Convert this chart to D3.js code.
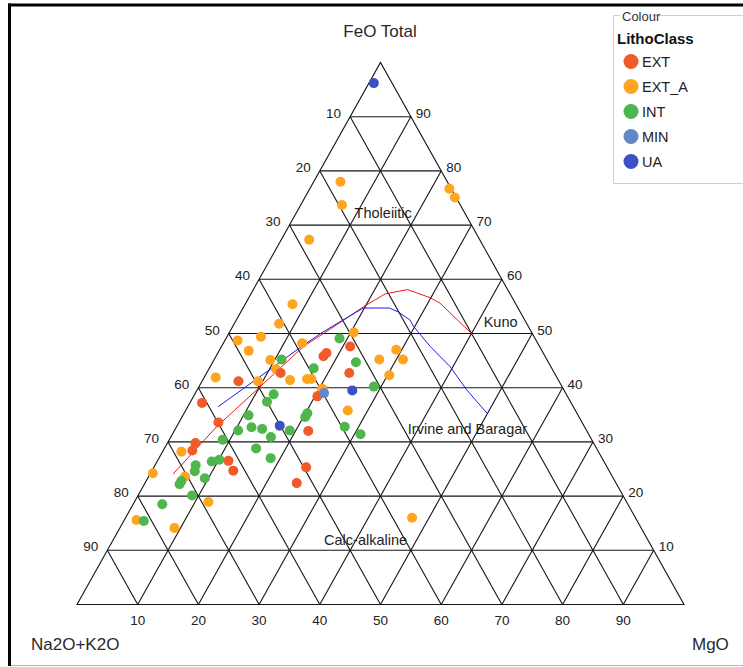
<!DOCTYPE html>
<html>
<head>
<meta charset="utf-8">
<script src="https://cdn.jsdelivr.net/npm/d3@7"></script>
<style>
  body { margin: 0; background: #fff; }
  svg { display: block; }
  text { font-family: "Liberation Sans", Arial, sans-serif; }
</style>
</head>
<body>
<svg id="chart" width="743" height="667"></svg>
<script>
// AFM ternary diagram: Na2O+K2O (A) – FeO Total (F) – MgO (M), values in %
const classes = ["EXT", "EXT_A", "INT", "MIN", "UA"];
const classColors = ["#f15b2c", "#ffa41f", "#4fb54d", "#6586c6", "#3a51c6"];

// samples as [A, F, M]
const extSamples = [
  [31.2, 47.6, 21.2], [35.7, 46.4, 17.9], [36.5, 45.8, 17.7], [45.1, 42.7, 12.2],
  [33.8, 42.7, 23.5], [52.8, 41.2, 6.0], [41.2, 38.4, 20.4], [60.8, 37.2, 2.0],
  [59.9, 33.6, 6.5], [45.9, 32.0, 22.1], [65.6, 29.8, 4.6], [66.8, 28.4, 4.8],
  [61.8, 26.5, 11.7], [61.9, 24.7, 13.4], [49.6, 25.3, 25.1], [52.6, 22.4, 25.0]
];
const extASamples = [
  [17.6, 78.0, 4.4], [19.5, 73.7, 6.8], [0.3, 76.7, 23.0], [0.2, 75.1, 24.7],
  [28.1, 67.3, 4.6], [36.8, 55.4, 7.8], [40.8, 51.8, 7.4], [29.3, 50.2, 20.5],
  [49.2, 48.7, 2.1], [45.0, 49.4, 5.6], [48.3, 46.8, 4.9], [38.8, 48.2, 13.0],
  [23.9, 47.0, 29.1], [23.7, 45.2, 31.1], [27.6, 45.2, 27.2], [27.4, 42.3, 30.3],
  [45.6, 45.1, 9.3], [45.5, 43.4, 11.1], [44.2, 41.4, 14.4], [41.3, 41.6, 17.1],
  [40.6, 41.6, 17.8], [56.2, 41.9, 1.9], [49.6, 41.2, 9.2], [39.7, 39.8, 20.5],
  [37.5, 35.8, 26.7], [68.7, 28.2, 3.1], [75.4, 24.2, 0.4], [70.4, 23.6, 6.0],
  [68.9, 18.9, 12.2], [82.4, 15.6, 2.0], [76.9, 14.1, 9.0], [36.8, 16.0, 47.2]
];
const intSamples = [
  [32.2, 49.1, 18.7], [43.7, 45.2, 11.1], [31.7, 44.7, 23.6], [39.2, 43.6, 17.2],
  [31.0, 40.2, 28.8], [48.2, 38.8, 13.0], [50.0, 37.4, 12.6], [54.3, 34.9, 10.8],
  [44.4, 35.3, 20.3], [45.1, 34.6, 20.3], [54.9, 32.7, 12.4], [53.3, 32.4, 14.3],
  [57.4, 32.1, 10.5], [48.9, 32.1, 19.0], [39.5, 32.8, 27.7], [37.6, 31.4, 31.0],
  [52.6, 30.9, 16.5], [60.8, 30.4, 8.8], [56.1, 28.8, 15.1], [54.6, 27.0, 18.4],
  [64.6, 26.4, 9.0], [63.2, 26.7, 10.1], [67.6, 25.7, 6.7], [68.3, 24.6, 7.1],
  [67.3, 23.3, 9.4], [71.4, 22.8, 5.8], [72.0, 22.2, 5.8], [71.0, 20.1, 8.9],
  [76.7, 18.5, 4.8], [81.3, 15.4, 3.3]
];
const minSamples = [
  [39.8, 39.0, 21.2]
];
const uaSamples = [
  [3.0, 96.2, 0.8], [34.9, 39.5, 25.6], [50.1, 33.0, 16.9]
];

// tholeiitic / calc-alkaline dividing lines, as [A, F, M]
const kunoLine = [
  [72.1, 24.1, 3.8], [65.9, 28.8, 5.3], [60.6, 32.8, 6.6], [50.0, 40.0, 10.0],
  [38.9, 47.6, 13.5], [34.4, 50.0, 15.6], [30.3, 52.2, 17.5], [25.4, 54.9, 19.7],
  [20.6, 57.3, 22.1], [16.5, 58.1, 25.4], [13.5, 56.6, 29.9], [12.4, 55.6, 32.0],
  [10.0, 50.0, 40.0]
];
const irvineBaragarLine = [
  [58.5, 36.5, 5.0], [48.9, 42.0, 9.1], [39.2, 47.6, 13.2], [34.3, 50.3, 15.4],
  [25.5, 54.7, 19.8], [21.2, 54.7, 24.1], [20.1, 54.0, 25.9], [18.9, 52.5, 28.6],
  [18.9, 51.3, 29.8], [18.0, 47.6, 34.4], [16.6, 43.9, 39.5], [16.0, 39.6, 44.4],
  [14.8, 35.3, 49.9]
];

const gridTicks = [10, 20, 30, 40, 50, 60, 70, 80, 90];

const series = [extASamples, extSamples, intSamples, minSamples, uaSamples];
const seriesClass = ["EXT_A", "EXT", "INT", "MIN", "UA"];

// ---------------------------------------------------------------------------
const svg = d3.select("#chart");
const color = d3.scaleOrdinal().domain(classes).range(classColors);

// horizontal position comes from M + F/2, vertical from F
const xs = d3.scaleLinear().domain([0, 100]).range([77, 684]);
const ys = d3.scaleLinear().domain([0, 100]).range([604.5, 62.5]);
const proj = ([a, f, m]) => {
  const s = a + f + m;
  const F = 100 * f / s, M = 100 * m / s;
  return [xs(M + F / 2), ys(F)];
};

svg.append("rect").attr("width", 743).attr("height", 667).attr("fill", "#fff");

// panel frame
const frame = svg.append("g");
frame.append("line").attr("x1", 8).attr("x2", 743).attr("y1", 5).attr("y2", 5)
  .attr("stroke", "#000").attr("stroke-width", 3);
frame.append("line").attr("x1", 9.5).attr("x2", 9.5).attr("y1", 3.5).attr("y2", 666)
  .attr("stroke", "#000").attr("stroke-width", 3);
frame.append("line").attr("x1", 11).attr("x2", 743).attr("y1", 665.5).attr("y2", 665.5)
  .attr("stroke", "#b4b4b4").attr("stroke-width", 1);

// triangular grid
const grid = svg.append("g").attr("stroke", "#151515").attr("stroke-width", 1.1).attr("fill", "none");
const lineGen = d3.line().x(d => d[0]).y(d => d[1]);
grid.append("path").attr("d", lineGen([proj([100, 0, 0]), proj([0, 100, 0]), proj([0, 0, 100])]) + "Z");
gridTicks.forEach(v => {
  // constant FeO
  grid.append("path").attr("d", lineGen([proj([100 - v, v, 0]), proj([0, v, 100 - v])]));
  // constant MgO
  grid.append("path").attr("d", lineGen([proj([100 - v, 0, v]), proj([0, 100 - v, v])]));
  // constant alkalis
  grid.append("path").attr("d", lineGen([proj([v, 0, 100 - v]), proj([v, 100 - v, 0])]));
});

// tick labels
const tickG = svg.append("g").attr("font-size", 13.5).attr("fill", "#222");
gridTicks.forEach(v => {
  const pl = proj([v, 100 - v, 0]);
  tickG.append("text").attr("x", pl[0] - 9).attr("y", pl[1] + 1)
    .attr("text-anchor", "end").text(v);
  const pr = proj([0, v, 100 - v]);
  tickG.append("text").attr("x", pr[0] + 5).attr("y", pr[1] + 1)
    .attr("text-anchor", "start").text(v);
  const pb = proj([100 - v, 0, v]);
  tickG.append("text").attr("x", pb[0]).attr("y", pb[1] + 20)
    .attr("text-anchor", "middle").text(v);
});

// apex titles
const titleG = svg.append("g").attr("font-size", 17).attr("fill", "#2a2a2a");
titleG.append("text").attr("x", 380).attr("y", 37).attr("text-anchor", "middle").text("FeO Total");
titleG.append("text").attr("x", 31).attr("y", 650).text("Na2O+K2O");
titleG.append("text").attr("x", 692).attr("y", 650).text("MgO");

// dividing lines
const curve = d3.line().x(d => proj(d)[0]).y(d => proj(d)[1]);
svg.append("path").attr("d", curve(kunoLine)).attr("fill", "none")
  .attr("stroke", "#f01818").attr("stroke-width", 1);
svg.append("path").attr("d", curve(irvineBaragarLine)).attr("fill", "none")
  .attr("stroke", "#1a1aee").attr("stroke-width", 1);

// field labels
const fieldG = svg.append("g").attr("font-size", 14.5).attr("fill", "#1e1e1e");
[
  { t: "Tholeiitic", p: [13.9, 71.3, 14.8], a: "middle" },
  { t: "Kuno", p: [7.4, 51.2, 41.4], a: "start" },
  { t: "Irvine and Baragar", p: [29.8, 31.4, 38.8], a: "start" },
  { t: "Calc-alkaline", p: [53.8, 11.0, 35.2], a: "start" }
].forEach(d => {
  const p = proj(d.p);
  fieldG.append("text").attr("x", p[0]).attr("y", p[1]).attr("text-anchor", d.a).text(d.t);
});

// samples
const pts = svg.append("g");
series.forEach((arr, i) => {
  pts.selectAll(null).data(arr).enter().append("circle")
    .attr("cx", d => proj(d)[0]).attr("cy", d => proj(d)[1])
    .attr("r", 5).attr("fill", color(seriesClass[i]));
});

// legend
const lg = svg.append("g");
lg.append("path")
  .attr("d", "M620,15.5 H613.5 V183.5 H743 M652,15.5 H743")
  .attr("fill", "none").attr("stroke", "#cfcfcf").attr("stroke-width", 1);
lg.append("text").attr("x", 622).attr("y", 21).attr("font-size", 13).attr("fill", "#333").text("Colour");
lg.append("text").attr("x", 617).attr("y", 44).attr("font-size", 15).attr("font-weight", "bold")
  .attr("fill", "#111").text("LithoClass");
classes.forEach((c, i) => {
  const cy = 61.5 + 25 * i;
  lg.append("circle").attr("cx", 631).attr("cy", cy).attr("r", 7.5).attr("fill", color(c));
  lg.append("text").attr("x", 642).attr("y", cy + 5).attr("font-size", 14.5).attr("fill", "#222").text(c);
});
</script>
</body>
</html>
